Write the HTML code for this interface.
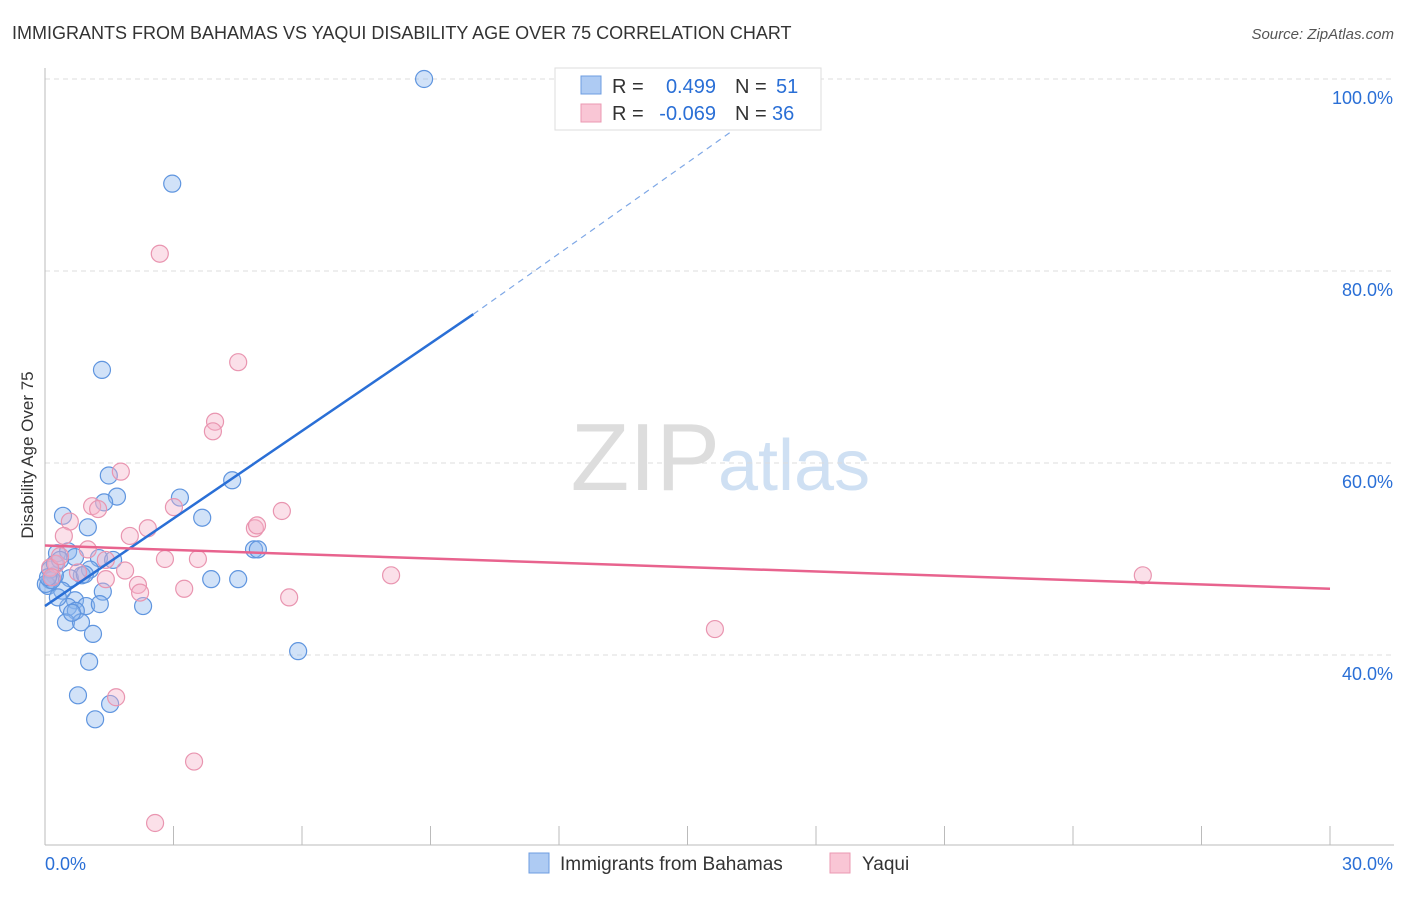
<!DOCTYPE html>
<html><head><meta charset="utf-8"><style>
body{margin:0;background:#fff;font-family:"Liberation Sans",sans-serif}
svg text{font-family:"Liberation Sans",sans-serif}
</style></head><body>
<svg id="c" width="1406" height="892">
<text x="12" y="39" font-size="18" fill="#333">IMMIGRANTS FROM BAHAMAS VS YAQUI DISABILITY AGE OVER 75 CORRELATION CHART</text>
<text x="1394" y="39" font-size="15" fill="#555" font-style="italic" text-anchor="end">Source: ZipAtlas.com</text>
<text x="33" y="455" font-size="17" fill="#333" text-anchor="middle" transform="rotate(-90 33 455)">Disability Age Over 75</text>
<text x="720" y="490" font-size="96" fill="#ddd" text-anchor="end" font-family="Liberation Serif">ZIP</text>
<text x="718" y="490" font-size="72" fill="#cfe0f3">atlas</text>
<g id="grid"></g><g id="pts"></g><g id="lines"></g>
<g>
<rect x="555" y="68" width="266" height="62" fill="#fff" stroke="#ddd"/>
<rect x="581" y="76" width="20" height="18" fill="#aecbf3" stroke="#6d9de0"/>
<rect x="581" y="104" width="20" height="18" fill="#f9c6d5" stroke="#eb98b2"/>
<text x="612" y="93" font-size="20" fill="#333">R =</text>
<text x="716" y="93" font-size="20" fill="#2a6fd6" text-anchor="end">0.499</text>
<text x="735" y="93" font-size="20" fill="#333">N =</text>
<text x="776" y="93" font-size="20" fill="#2a6fd6">51</text>
<text x="612" y="120" font-size="20" fill="#333">R =</text>
<text x="716" y="120" font-size="20" fill="#2a6fd6" text-anchor="end">-0.069</text>
<text x="735" y="120" font-size="20" fill="#333">N =</text>
<text x="772" y="120" font-size="20" fill="#2a6fd6">36</text>
</g>
<g>
<rect x="529" y="853" width="20" height="20" fill="#aecbf3" stroke="#6d9de0"/>
<text x="560" y="870" font-size="19" fill="#333">Immigrants from Bahamas</text>
<rect x="830" y="853" width="20" height="20" fill="#f9c6d5" stroke="#eb98b2"/>
<text x="862" y="870" font-size="19" fill="#333">Yaqui</text>
</g>
</svg>
<script>
const blueX=[8.85,2.97,1.33,1.49,1.68,1.38,3.15,4.37,3.67,0.42,1.00,0.28,0.54,0.70,1.26,1.59,1.05,0.86,0.58,0.23,0.12,0.07,0.40,1.35,0.70,0.54,0.96,1.28,2.29,0.72,0.49,0.84,1.12,1.03,0.77,1.52,1.17,3.88,4.51,4.88,4.97,5.91,0.12,0.23,0.02,0.16,0.35,0.07,0.63,0.93,0.30];
const blueY=[100,89.1,69.7,58.7,56.5,55.9,56.4,58.2,54.3,54.5,53.3,50.6,50.8,50.2,50.1,49.9,48.9,48.3,48.0,48.3,47.8,47.2,46.7,46.6,45.7,45.0,45.1,45.3,45.1,44.6,43.4,43.4,42.2,39.3,35.8,34.9,33.3,47.9,47.9,51.0,51.0,40.4,48.9,49.5,47.4,47.8,49.9,48.1,44.4,48.4,46.0];
const pinkX=[2.68,4.51,3.97,3.92,1.77,1.10,1.24,0.58,2.40,1.98,0.44,3.01,4.90,5.53,4.95,3.57,2.80,1.00,1.42,1.87,1.42,2.17,2.22,3.25,5.70,8.08,15.64,25.63,1.66,3.48,2.57,0.26,0.12,0.35,0.16,0.77];
const pinkY=[81.8,70.5,64.3,63.3,59.1,55.5,55.2,53.9,53.2,52.4,52.4,55.4,53.2,55.0,53.5,50.0,50.0,51.0,49.9,48.8,47.9,47.3,46.5,46.9,46.0,48.3,42.7,48.3,35.6,28.9,22.5,49.5,49.1,50.3,48.1,48.6];
const gridY=[100,80,60,40];
const yTickLabels=['100.0%','80.0%','60.0%','40.0%'];
const blueLine=[0.0,45.1,10.0,75.5];
const blueDash=[10.0,75.5,17.6,99.5];
const pinkLine=[0.0,51.4,30.0,46.9];
const X0=45,X1=1330;
function sx(v){return X0+(v/30)*(X1-X0);}
function sy(v){return 79+(100-v)*9.6;}
const NS='http://www.w3.org/2000/svg';
function mk(p,t,a){const e=document.createElementNS(NS,t);for(const k in a)e.setAttribute(k,a[k]);p.appendChild(e);return e;}
const g=document.getElementById('grid');
gridY.forEach((v,i)=>{
 const l=mk(g,'line',{x1:45,x2:1394,y1:sy(v),y2:sy(v),stroke:'#ddd','stroke-dasharray':'5,4'});
 
 
 const t=mk(g,'text',{x:1393,y:sy(v)+25,'font-size':18,fill:'#2a6fd6','text-anchor':'end'});t.textContent=yTickLabels[i];
 
 
});
const ax=mk(g,'line',{x1:45,x2:45,y1:68,y2:845,stroke:'#bbb'});


const bx=mk(g,'line',{x1:45,x2:1394,y1:845,y2:845,stroke:'#bbb'});


for(let i=1;i<=10;i++){const t=mk(g,'line',{x1:sx(i*3),x2:sx(i*3),y1:826,y2:845,stroke:'#bbb'});
 
 }
const xl=mk(g,'text',{x:45,y:870,'font-size':18,fill:'#2a6fd6'});xl.textContent='0.0%';


const xr=mk(g,'text',{x:1393,y:870,'font-size':18,fill:'#2a6fd6','text-anchor':'end'});xr.textContent='30.0%';


const P=document.getElementById('pts');
blueX.forEach((x,i)=>{const c=mk(P,'circle',{cx:sx(x),cy:sy(blueY[i]),r:8.5,fill:'rgba(140,182,238,0.4)',stroke:'#5f95df','stroke-width':1.2});
 
 });
pinkX.forEach((x,i)=>{const c=mk(P,'circle',{cx:sx(x),cy:sy(pinkY[i]),r:8.5,fill:'rgba(246,178,200,0.4)',stroke:'#e995b0','stroke-width':1.2});
 
 });
const L=document.getElementById('lines');
const b1=mk(L,'line',{x1:sx(blueLine[0]),y1:sy(blueLine[1]),x2:sx(blueLine[2]),y2:sy(blueLine[3]),stroke:'#2a6fd6','stroke-width':2.5});


const b2=mk(L,'line',{x1:sx(blueDash[0]),y1:sy(blueDash[1]),x2:sx(blueDash[2]),y2:sy(blueDash[3]),stroke:'#7fa8e6','stroke-width':1.2,'stroke-dasharray':'6,5'});


const p1=mk(L,'line',{x1:sx(pinkLine[0]),y1:sy(pinkLine[1]),x2:sx(pinkLine[2]),y2:sy(pinkLine[3]),stroke:'#e8638e','stroke-width':2.5});


</script>
</body></html>
